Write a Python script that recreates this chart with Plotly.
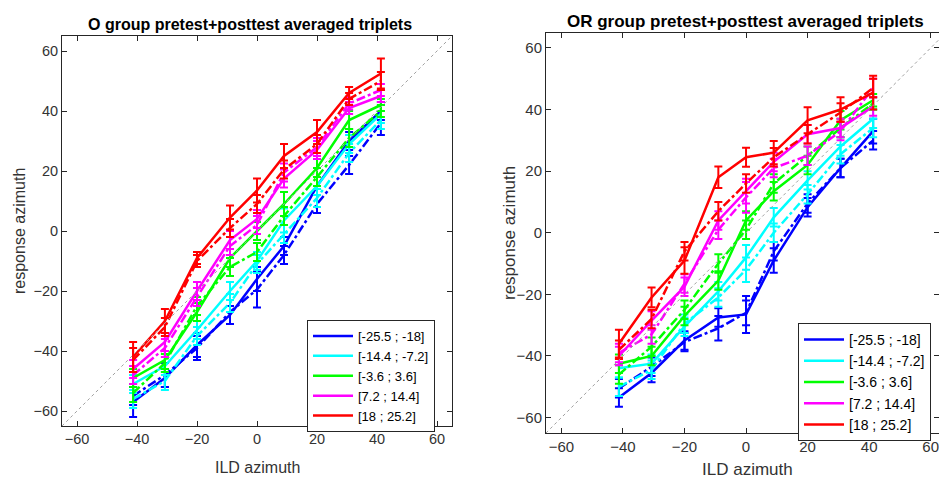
import plotly.graph_objects as go

# ILD azimuth positions of the nine stimulus triplets
AZIMUTH = [-41.3, -30.7, -20, -9, 0, 9, 20, 30.7, 41.3]

RANGE_LABELS = ["[-25.5 ; -18]", "[-14.4 ; -7.2]", "[-3.6 ; 3.6]", "[7.2 ; 14.4]", "[18 ; 25.2]"]
COLORS = ["#0000ff", "#00ffff", "#00ff00", "#ff00ff", "#ff0000"]

# ---- O group: mean response azimuth (solid / dash-dot) and error half-widths
O_SOLID = [
    [-57, -49, -38, -28, -16, -5, 15, 30, 40],
    [-51, -45, -33, -20, -10, 3.5, 15, 29, 39],
    [-49, -43, -27, -9, 0, 9, 21, 37, 42],
    [-46, -37, -20, -3, 4, 17.5, 27, 41, 45],
    [-42, -30, -9, 4.5, 13.5, 25, 33, 46, 52.5],
]
O_SOLID_ERR = [
    [5, 3, 4, 3, 4, 3, 3, 3, 3],
    [3, 3, 3, 3, 3, 4, 3, 3, 3],
    [3, 3, 3, 3, 3, 4, 3, 3, 2],
    [3, 3, 3, 3, 3, 3, 3, 2, 2],
    [5, 4, 2, 4, 4, 4, 4, 2, 5],
]
O_DASH = [
    [-55, -48, -39, -27, -19.5, -8, 9, 22, 36],
    [-56, -50, -35, -24, -11, -1, 11, 26, 37],
    [-54, -44, -25, -12, -7, 5, 18, 31, 40],
    [-48, -39, -22, -5, 2, 19.5, 28, 42.5, 47],
    [-43, -32, -10, 1, 9, 20.5, 29, 44, 50],
]
O_DASH_ERR = [
    [3, 4, 4, 4, 6, 3, 3, 3, 4],
    [3, 3, 3, 3, 3, 3, 3, 3, 3],
    [3, 3, 3, 3, 3, 3, 3, 3, 2],
    [3, 3, 3, 3, 3, 3, 3, 2, 2],
    [4, 3, 2, 3, 3, 3, 3, 2, 3],
]

# ---- OR group
OR_SOLID = [
    [-53.5, -45.5, -35, -27.5, -26.5, -9, 8.3, 21, 33],
    [-44, -42.5, -30.5, -19, -8, 5, 17, 28, 37],
    [-42.5, -40, -27, -15.5, 4, 13.5, 22, 36.5, 43],
    [-40, -28.5, -17.5, 4, 13.5, 23, 32, 34, 41],
    [-36, -21, -9, 18, 24.5, 26, 36.5, 40, 45.5],
]
OR_SOLID_ERR = [
    [3, 3, 3, 3, 6, 4, 3, 3, 4],
    [3, 3, 3, 3, 4, 3, 3, 3, 3],
    [3, 3, 3, 3, 3, 3, 3, 3, 2],
    [3, 3, 3, 3, 4, 3, 3, 3, 3],
    [4.5, 3.2, 4.3, 3.5, 3.1, 3.8, 4.2, 4, 5.5],
]
OR_DASH = [
    [-50.5, -43.5, -35.5, -31, -26, -6, 9.5, 21, 30],
    [-50, -44.5, -29.5, -21, -12, 0, 12.5, 25.5, 34],
    [-46, -37, -25, -10, 1, 16, 25, 34, 42],
    [-39, -33, -16.5, 1, 11.5, 21, 25, 33, 47],
    [-38, -28, -6, 7, 16, 24.5, 32, 39, 47],
]
OR_DASH_ERR = [
    [3, 3, 3, 4, 4, 3, 3, 3, 3],
    [3, 3, 3, 3, 4, 3, 3, 3, 3],
    [3, 3, 3, 3, 3, 3, 3, 3, 2],
    [3, 3, 3, 3, 5, 3, 3, 3, 3],
    [3, 3, 3, 3, 3, 3, 3, 3, 3],
]

W, H = 939, 479
FONT = "Liberation Sans, Arial, sans-serif"
TXT = "#333333"

fig = go.Figure()


def add_group(solid, solid_err, dash, dash_err, xa, ya, legend):
    for i in range(5):
        for vals, errs, style, show in ((solid[i], solid_err[i], "solid", True),
                                        (dash[i], dash_err[i], "dashdot", False)):
            fig.add_trace(go.Scatter(
                x=AZIMUTH, y=vals, mode="lines",
                line=dict(color=COLORS[i], width=2.5, dash=style),
                error_y=dict(type="data", array=errs, visible=True,
                             color=COLORS[i], thickness=2, width=4),
                name=RANGE_LABELS[i], showlegend=show, legend=legend,
                xaxis=xa, yaxis=ya,
            ))
    # identity diagonal
    fig.add_trace(go.Scatter(
        x=[-65, 65], y=[-65, 65], mode="lines",
        line=dict(color="#a0a0a0", width=1, dash="dot"),
        showlegend=False, xaxis=xa, yaxis=ya, hoverinfo="skip",
    ))


add_group(O_SOLID, O_SOLID_ERR, O_DASH, O_DASH_ERR, "x", "y", "legend")
add_group(OR_SOLID, OR_SOLID_ERR, OR_DASH, OR_DASH_ERR, "x2", "y2", "legend2")


def px_x(p):
    return p / W


def px_y(p):
    return 1 - p / H


ticks = [-60, -40, -20, 0, 20, 40, 60]
axis_common = dict(
    tickvals=ticks, ticks="inside", ticklen=5, tickcolor="#262626",
    showline=True, linecolor="#262626", linewidth=1, mirror="allticks",
    showgrid=False, zeroline=False,
)

fig.update_layout(
    width=W, height=H,
    margin=dict(l=0, r=0, t=0, b=0),
    paper_bgcolor="white", plot_bgcolor="white",
    font=dict(family=FONT, color=TXT),
    xaxis=dict(domain=[px_x(62), px_x(452)], range=[-65, 65], anchor="y",
               tickfont=dict(size=14.5, color=TXT), **axis_common),
    yaxis=dict(domain=[px_y(426), px_y(36)], range=[-65, 65], anchor="x",
               tickfont=dict(size=14.5, color=TXT), **axis_common),
    xaxis2=dict(domain=[px_x(546), 1.0], range=[-65, 62.7], anchor="y2",
                ticklabeloverflow="allow",
                tickfont=dict(size=15, color=TXT), **axis_common),
    yaxis2=dict(domain=[px_y(433), px_y(32.5)], range=[-65, 65], anchor="x2",
                tickfont=dict(size=15, color=TXT), **axis_common),
    legend=dict(x=px_x(307), y=px_y(320), xanchor="left", yanchor="top",
                bgcolor="white", bordercolor="#262626", borderwidth=1,
                font=dict(size=13, color="black", family=FONT),
                itemwidth=40, tracegroupgap=0),
    legend2=dict(x=px_x(798), y=px_y(323), xanchor="left", yanchor="top",
                 bgcolor="white", bordercolor="#262626", borderwidth=1,
                 font=dict(size=14, color="black", family=FONT),
                 itemwidth=40, tracegroupgap=0),
    annotations=[
        dict(text="<b>O group pretest+posttest averaged triplets</b>",
             x=px_x(250), y=px_y(24), xref="paper", yref="paper",
             xanchor="center", yanchor="middle", showarrow=False,
             font=dict(size=16, color="black")),
        dict(text="<b>OR group pretest+posttest averaged triplets</b>",
             x=px_x(745), y=px_y(21.5), xref="paper", yref="paper",
             xanchor="center", yanchor="middle", showarrow=False,
             font=dict(size=17, color="black")),
        dict(text="ILD azimuth", x=px_x(257), y=px_y(467), xref="paper", yref="paper",
             xanchor="center", yanchor="middle", showarrow=False,
             font=dict(size=16, color=TXT)),
        dict(text="ILD azimuth", x=px_x(747), y=px_y(469), xref="paper", yref="paper",
             xanchor="center", yanchor="middle", showarrow=False,
             font=dict(size=17, color=TXT)),
        dict(text="response azimuth", x=px_x(20), y=px_y(231), xref="paper", yref="paper",
             xanchor="center", yanchor="middle", showarrow=False, textangle=-90,
             font=dict(size=16, color=TXT)),
        dict(text="response azimuth", x=px_x(509), y=px_y(233), xref="paper", yref="paper",
             xanchor="center", yanchor="middle", showarrow=False, textangle=-90,
             font=dict(size=17, color=TXT)),
    ],
)

fig.write_html("out.html")
